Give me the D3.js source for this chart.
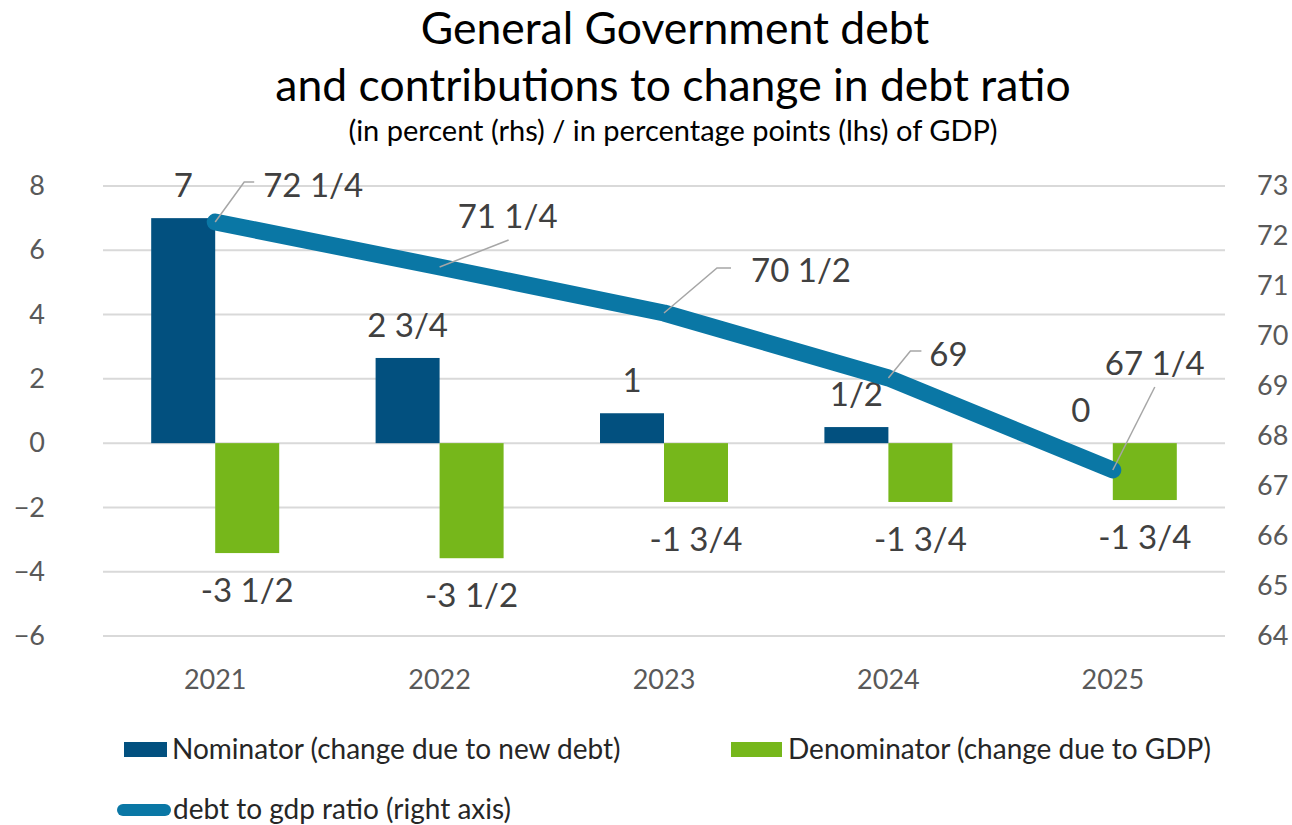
<!DOCTYPE html>
<html>
<head>
<meta charset="utf-8">
<script src="https://cdn.jsdelivr.net/npm/d3@7"></script>
<style>
  body { margin: 0; background: #fff; }
  svg { display: block; font-family: Lato, "Noto Sans", sans-serif; }
</style>
</head>
<body>
<div id="chart"><svg width="1292" height="825"></svg></div>
<script>
// data
const years = ['2021', '2022', '2023', '2024', '2025'];
const nominator = [7, 2.65, 0.93, 0.5, 0];
const denominator = [-3.42, -3.58, -1.83, -1.83, -1.77];
const debtRatio = [72.28, 71.38, 70.46, 69.16, 67.32];
const nominatorLabels = ['7', '2 3/4', '1', '1/2', '0'];
const denominatorLabels = ['-3 1/2', '-3 1/2', '-1 3/4', '-1 3/4', '-1 3/4'];
const ratioLabels = ['72 1/4', '71 1/4', '70 1/2', '69', '67 1/4'];
const leftTicks = [-6, -4, -2, 0, 2, 4, 6, 8];
const rightTicks = [64, 65, 66, 67, 68, 69, 70, 71, 72, 73];

// label placement for the ratio line (offset of label centre from point, leader elbow)
const ratioLabelPos = [
  { dx: 98, dy: -36, leader: [[0, 0], [29, -40], [39, -40]] },
  { dx: 68, dy: -50, leader: [[0, 0], [69, -27]] },
  { dx: 137, dy: -42, leader: [[0, 0], [53, -45], [67, -45]] },
  { dx: 60, dy: -23, leader: [[0, 0], [22, -27], [33, -27]] },
  { dx: 42, dy: -106, leader: [[0, 0], [42, -83]] }
];

const colors = { nom: '#02507F', den: '#76B71B', line: '#0A77A5' };

const svg = d3.select('#chart svg');
const plotLeft = 103, plotRight = 1225, plotTop = 186, plotBottom = 636;

// scales
const x0 = d3.scaleBand().domain(years).range([plotLeft, plotRight]);
const x1 = d3.scaleBand().domain(['nom', 'den']).range([-64, 64]);
const yL = d3.scaleLinear().domain([-6, 8]).range([plotBottom, plotTop]);
const yR = d3.scaleLinear().domain([64, 73]).range([plotBottom, plotTop]);
const cx = d => x0(d) + x0.bandwidth() / 2;

// title
const title = svg.append('g').attr('fill', '#000').style('text-anchor', 'middle');
title.append('text').attr('x', 675).attr('y', 44).style('font-size', '44.5px').text('General Government debt');
title.append('text').attr('x', 673).attr('y', 101).style('font-size', '44.5px').text('and contributions to change in debt ratio');
title.append('text').attr('x', 673).attr('y', 141).style('font-size', '29px').text('(in percent (rhs) / in percentage points (lhs) of GDP)');

// gridlines
svg.append('g').selectAll('line')
  .data(leftTicks)
  .join('line')
  .attr('x1', plotLeft).attr('x2', plotRight)
  .attr('y1', d => yL(d)).attr('y2', d => yL(d))
  .style('stroke', '#D9D9D9')
  .style('stroke-width', 2);

// left axis
const axisL = svg.append('g')
  .attr('transform', `translate(${plotLeft - 58},0)`)
  .call(d3.axisLeft(yL).tickValues(leftTicks).tickSize(0).tickPadding(0));
axisL.select('.domain').remove();
axisL.selectAll('text').style('font-size', '27px').style('fill', '#595959').style('font-family', 'Lato');

// right axis
const axisR = svg.append('g')
  .attr('transform', `translate(${plotRight + 32},0)`)
  .call(d3.axisRight(yR).tickValues(rightTicks).tickSize(0).tickPadding(0));
axisR.select('.domain').remove();
axisR.selectAll('text').style('font-size', '27px').style('fill', '#595959').style('font-family', 'Lato');

// x axis labels
svg.append('g').selectAll('text')
  .data(years)
  .join('text')
  .text(d => d)
  .attr('x', d => cx(d))
  .attr('y', 689)
  .style('text-anchor', 'middle')
  .style('font-size', '27px')
  .style('fill', '#595959');

// bars
const nomG = svg.append('g').attr('id', 'nominator');
nomG.selectAll('rect')
  .data(nominator)
  .join('rect')
  .attr('x', (d, i) => cx(years[i]) + x1('nom'))
  .attr('width', x1.bandwidth())
  .attr('y', d => yL(Math.max(0, d)))
  .attr('height', d => Math.abs(yL(d) - yL(0)))
  .style('fill', colors.nom);

nomG.selectAll('text')
  .data(nominator)
  .join('text')
  .text((d, i) => nominatorLabels[i])
  .attr('x', (d, i) => cx(years[i]) + x1('nom') + x1.bandwidth() / 2)
  .attr('y', d => yL(Math.max(0, d)) - 21)
  .style('text-anchor', 'middle')
  .style('font-size', '33px')
  .style('fill', '#404040');

const denG = svg.append('g').attr('id', 'denominator');
denG.selectAll('rect')
  .data(denominator)
  .join('rect')
  .attr('x', (d, i) => cx(years[i]) + x1('den'))
  .attr('width', x1.bandwidth())
  .attr('y', d => yL(Math.max(0, d)))
  .attr('height', d => Math.abs(yL(d) - yL(0)))
  .style('fill', colors.den);

denG.selectAll('text')
  .data(denominator)
  .join('text')
  .text((d, i) => denominatorLabels[i])
  .attr('x', (d, i) => cx(years[i]) + x1('den') + x1.bandwidth() / 2)
  .attr('y', d => yL(d) + 49)
  .style('text-anchor', 'middle')
  .style('font-size', '33px')
  .style('fill', '#404040');

// debt ratio line
const pts = debtRatio.map((d, i) => [cx(years[i]), yR(d)]);
svg.append('path')
  .datum(pts)
  .attr('d', d3.line())
  .style('fill', 'none')
  .style('stroke', colors.line)
  .style('stroke-width', 17)
  .style('stroke-linecap', 'round')
  .style('stroke-linejoin', 'round');

// leader lines and labels
const lineG = svg.append('g').attr('id', 'ratio-labels');
lineG.selectAll('path')
  .data(pts)
  .join('path')
  .attr('d', (p, i) => d3.line()(ratioLabelPos[i].leader.map(q => [p[0] + q[0], p[1] + q[1]])))
  .style('fill', 'none')
  .style('stroke', '#A6A6A6')
  .style('stroke-width', 1.5);

lineG.selectAll('text')
  .data(pts)
  .join('text')
  .text((p, i) => ratioLabels[i])
  .attr('x', (p, i) => p[0] + ratioLabelPos[i].dx)
  .attr('y', (p, i) => p[1] + ratioLabelPos[i].dy + 11)
  .style('text-anchor', 'middle')
  .style('font-size', '33px')
  .style('fill', '#404040');

// legend
const legend = svg.append('g').style('font-size', '28px').style('fill', '#262626');
legend.append('rect').attr('x', 124).attr('y', 742).attr('width', 43).attr('height', 15).style('fill', colors.nom);
legend.append('text').attr('x', 172).attr('y', 759).text('Nominator (change due to new debt)');
legend.append('rect').attr('x', 731).attr('y', 742).attr('width', 51).attr('height', 15).style('fill', colors.den);
legend.append('text').attr('x', 788).attr('y', 759).text('Denominator (change due to GDP)');
legend.append('line').attr('x1', 123).attr('x2', 165).attr('y1', 810).attr('y2', 810)
  .style('stroke', colors.line).style('stroke-width', 12).style('stroke-linecap', 'round');
legend.append('text').attr('x', 173).attr('y', 819).text('debt to gdp ratio (right axis)');
</script>
</body>
</html>
